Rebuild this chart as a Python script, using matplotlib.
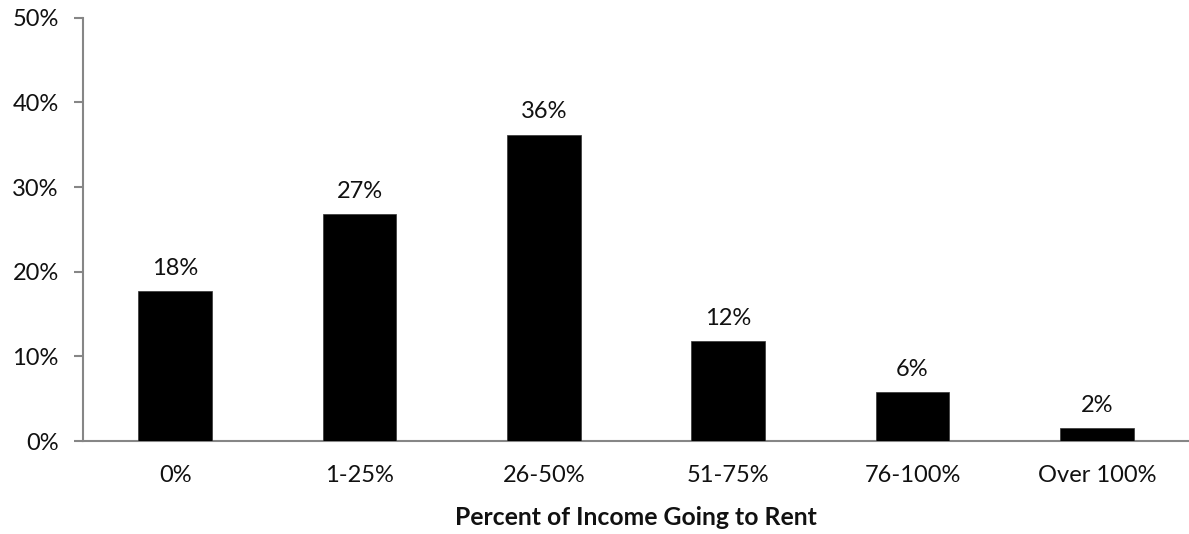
import matplotlib
matplotlib.use("Agg")
import matplotlib.pyplot as plt
from matplotlib.ticker import FuncFormatter

categories = ["0%", "1-25%", "26-50%", "51-75%", "76-100%", "Over 100%"]
values = [17.7, 26.8, 36.2, 11.8, 5.75, 1.5]
labels = ["18%", "27%", "36%", "12%", "6%", "2%"]
yticks = [0, 10, 20, 30, 40, 50]

plt.rcParams['font.family'] = ['Lato', 'DejaVu Sans']
FS = 17

fig = plt.figure(figsize=(11.89, 5.34), dpi=100)
ax = fig.add_axes([83/1189, 1 - 441/534, (1189 - 83)/1189, (441 - 17.7)/534])

x = list(range(len(categories)))
ax.bar(x, values, width=0.4, color="black", edgecolor="#333333", linewidth=0.5, zorder=3)
for xi, v, lab in zip(x, values, labels):
    ax.annotate(lab, (xi, v), xytext=(0, 9), textcoords="offset points",
                ha="center", va="bottom", fontsize=FS, color="#111111")

ax.set_xlim(-0.5, len(categories) - 0.5)
ax.set_ylim(0, 50)
ax.set_yticks(yticks)
ax.yaxis.set_major_formatter(FuncFormatter(lambda v, p: f"{int(v)}%"))
ax.set_xticks(x)
ax.set_xticklabels(categories)
ax.tick_params(axis="y", length=6.5, width=1.5, color="#868686", labelsize=FS, pad=11, labelcolor="#111111")
ax.tick_params(axis="x", length=0, labelsize=FS, pad=17, labelcolor="#111111")
for s in ["top", "right"]:
    ax.spines[s].set_visible(False)
for s in ["left", "bottom"]:
    ax.spines[s].set_color("#868686")
    ax.spines[s].set_linewidth(1.5)
ax.set_xlabel("Percent of Income Going to Rent", fontsize=17.8, fontweight="bold", labelpad=15, color="#111111")

fig.savefig("out.png", dpi=100)
